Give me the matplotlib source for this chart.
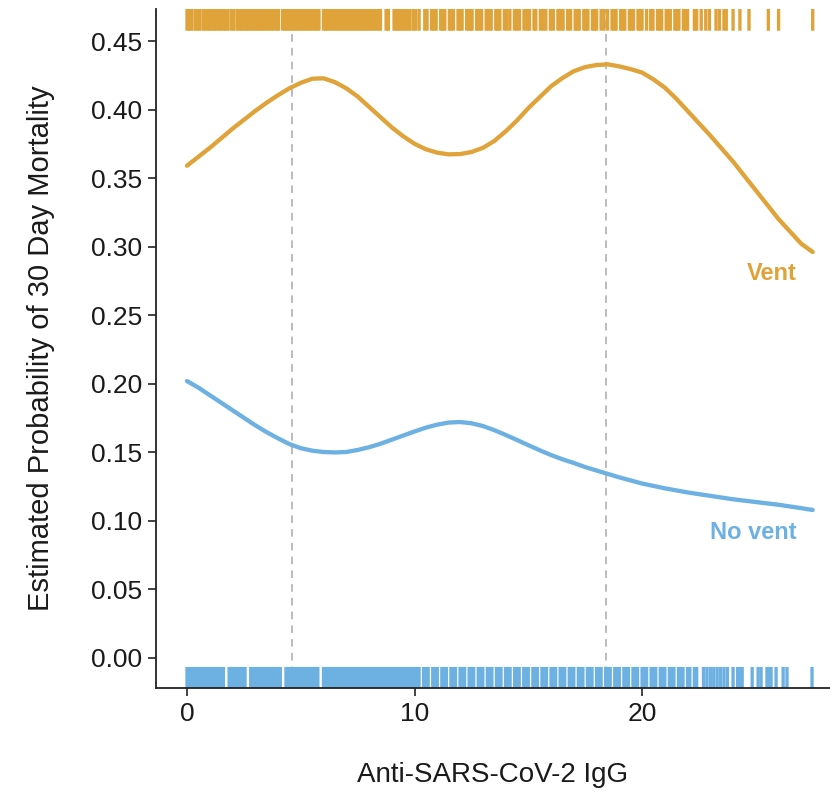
import matplotlib
matplotlib.use("Agg")
import matplotlib.pyplot as plt

plt.rcParams['font.family'] = ['Liberation Sans', 'DejaVu Sans']

# Fitted probability curves (IgG level vs. estimated 30-day mortality)
vent_x = [0, 0.5, 1, 1.5, 2, 2.5, 3, 3.5, 4, 4.5, 5, 5.5, 6, 6.5, 7, 7.5, 8, 8.5, 9, 9.5,
          10, 10.5, 11, 11.5, 12, 12.5, 13, 13.5, 14, 14.5, 15, 15.5, 16, 16.5, 17, 17.5,
          18, 18.5, 19, 19.5, 20, 20.5, 21, 21.5, 22, 22.5, 23, 23.5, 24, 24.5, 25, 25.5,
          26, 26.5, 27, 27.5]
vent_y = [0.359, 0.3655, 0.372, 0.379, 0.386, 0.3925, 0.399, 0.405, 0.4105, 0.4155,
          0.4195, 0.4225, 0.4228, 0.420, 0.4155, 0.4095, 0.402, 0.3945, 0.387, 0.3805,
          0.375, 0.371, 0.3685, 0.3673, 0.3675, 0.369, 0.372, 0.377, 0.384, 0.392,
          0.401, 0.409, 0.417, 0.423, 0.428, 0.431, 0.4325, 0.433, 0.4315, 0.4295,
          0.427, 0.422, 0.416, 0.408, 0.399, 0.390, 0.381, 0.3715, 0.362, 0.3515,
          0.341, 0.3305, 0.320, 0.311, 0.302, 0.296]

novent_x = [0, 0.5, 1, 1.5, 2, 2.5, 3, 3.5, 4, 4.5, 5, 5.5, 6, 6.5, 7, 7.5, 8, 8.5, 9,
            9.5, 10, 10.5, 11, 11.5, 12, 12.5, 13, 13.5, 14, 14.5, 15, 15.5, 16, 16.5,
            17, 17.5, 18, 18.5, 19, 20, 21, 22, 23, 24, 25, 26, 27, 27.5]
novent_y = [0.2018, 0.197, 0.1915, 0.186, 0.1805, 0.175, 0.1695, 0.1645, 0.160, 0.1558,
            0.1528, 0.151, 0.150, 0.1497, 0.150, 0.1515, 0.1535, 0.156, 0.159, 0.162,
            0.165, 0.1678, 0.170, 0.1715, 0.1719, 0.171, 0.169, 0.166, 0.1625, 0.1588,
            0.155, 0.1513, 0.1478, 0.1447, 0.142, 0.139, 0.1365, 0.134, 0.1315, 0.127,
            0.1235, 0.1205, 0.118, 0.1155, 0.1135, 0.1115, 0.109, 0.1077]

# Observed IgG values per group (rug)
vent_obs = [
    0.0, 0.1, 0.2, 0.35, 0.45, 0.55,
    0.7, 0.8, 0.9, 1.0, 1.1, 1.2, 1.3, 1.4, 1.5, 1.6, 1.7, 1.8,
    1.95, 2.05,
    2.2, 2.3, 2.4, 2.5, 2.6, 2.7, 2.8, 2.9, 3.0, 3.1, 3.2, 3.3, 3.4, 3.5, 3.6, 3.7, 3.8,
    3.93, 4.02,
    4.2, 4.3, 4.4, 4.5, 4.6, 4.7, 4.8, 4.9, 5.0, 5.1, 5.2, 5.3, 5.4, 5.5, 5.6, 5.7, 5.8,
    6.0, 6.1, 6.2, 6.3, 6.4, 6.5, 6.6, 6.7, 6.8, 6.9, 7.0, 7.1, 7.2, 7.3, 7.4, 7.5, 7.6,
    7.7, 7.8, 7.9, 8.0, 8.1, 8.2, 8.3, 8.4, 8.5,
    8.75, 8.85,
    9.1, 9.2, 9.3, 9.4, 9.5, 9.6, 9.7, 9.8,
    9.95, 10.05, 10.2,
    10.45, 10.55, 10.75, 10.85, 10.95,
    11.15, 11.24, 11.33, 11.53, 11.62, 11.71, 11.91, 12.0, 12.09,
    12.29, 12.39, 12.48, 12.53, 12.73, 12.83, 12.95, 13.15, 13.26, 13.37,
    13.57, 13.66, 13.75, 13.95, 14.06, 14.19, 14.39, 14.5, 14.61,
    14.81, 14.93, 15.05, 15.25, 15.33, 15.53, 15.65, 15.77, 15.97, 16.1,
    16.3, 16.42, 16.53, 16.73, 16.86, 17.06, 17.15, 17.24, 17.44, 17.53, 17.62,
    17.82, 17.91, 18.0, 18.2, 18.32, 18.48, 18.68, 18.77, 18.86, 19.06, 19.15, 19.24,
    19.44, 19.53, 19.62, 19.82, 19.91, 20.0, 20.2, 20.38, 20.48, 20.68, 20.77, 20.86,
    21.06, 21.15, 21.24, 21.44, 21.53, 21.62, 21.82, 21.91, 22.0,
    22.3, 22.4, 22.6, 22.8, 22.96, 23.25, 23.4, 23.6, 23.7, 24.0, 24.3, 24.7,
    25.55, 26.0, 27.5,
]
novent_obs = [
    0.0, 0.1, 0.2, 0.3, 0.4, 0.5, 0.6, 0.7, 0.8, 0.9, 1.0, 1.1, 1.2, 1.3, 1.4, 1.5, 1.6,
    1.85, 1.95, 2.05, 2.15, 2.25, 2.35, 2.45, 2.55,
    2.8, 2.9, 3.0, 3.1, 3.2, 3.3, 3.4, 3.5, 3.6, 3.7, 3.8, 3.9, 4.0, 4.1,
    4.35, 4.45, 4.55, 4.65, 4.75, 4.85, 4.95, 5.05, 5.15, 5.25, 5.35, 5.45, 5.55, 5.65, 5.75,
    6.0, 6.1, 6.2, 6.3, 6.4, 6.5, 6.6, 6.7, 6.8, 6.9, 7.0, 7.1, 7.2, 7.3, 7.4, 7.5, 7.6,
    7.7, 7.8, 7.9, 8.0, 8.1, 8.2, 8.3, 8.4, 8.5, 8.6, 8.7, 8.8, 8.9, 9.0, 9.1, 9.2, 9.3,
    9.4, 9.5, 9.6, 9.7, 9.8, 9.9, 10.0, 10.1, 10.2,
    10.4, 10.5, 10.6, 10.8, 10.9, 11.0, 11.2, 11.3, 11.4, 11.6, 11.7, 11.8,
    12.0, 12.1, 12.2, 12.4, 12.5, 12.6, 12.8, 12.9, 13.0, 13.2, 13.3, 13.4,
    13.6, 13.7, 13.8, 14.0, 14.1, 14.2, 14.4, 14.5, 14.6, 14.8, 14.9, 15.0,
    15.2, 15.3, 15.4, 15.6, 15.7, 15.8, 16.0, 16.1, 16.2, 16.4, 16.5, 16.6,
    16.8, 16.9, 17.0, 17.2, 17.3, 17.4, 17.6, 17.7, 17.8, 18.0, 18.1, 18.2,
    18.4, 18.5, 18.6, 18.8, 18.9, 19.0, 19.2, 19.3, 19.4, 19.6, 19.7, 19.8,
    20.0, 20.1, 20.2, 20.4, 20.5, 20.6, 20.8, 20.9, 21.0, 21.2, 21.3, 21.4,
    21.6, 21.7, 21.8, 22.0, 22.1, 22.3, 22.4,
    22.7, 22.85, 23.0, 23.15, 23.3, 23.45, 23.6, 23.75, 24.0, 24.2, 24.3, 24.4,
    24.84, 25.1, 25.23, 25.49, 25.58, 25.67, 25.89, 26.2, 26.37, 27.47,
]

# Reference IgG levels marked with dashed lines
ref_levels = [4.6, 18.4]

group_labels = ["Vent", "No vent"]
label_y = [0.280, 0.0912]

x_ticks = [0, 10, 20]
y_ticks = [0.00, 0.05, 0.10, 0.15, 0.20, 0.25, 0.30, 0.35, 0.40, 0.45]

vent_color = "#DFA33A"
novent_color = "#6DB1E3"

fig = plt.figure(figsize=(8.30, 7.97), dpi=100)
ax = fig.add_axes([156 / 830, (797 - 688) / 797, 674 / 830, 679 / 797])

ax.set_xlim(-1.363, 28.26)
ax.set_ylim(-0.02226, 0.4734)

for lv in ref_levels:
    ax.axvline(lv, color="#AAAAAA", lw=1.1, ls=(0, (5, 4)), zorder=1)

ax.plot(vent_x, vent_y, color=vent_color, lw=3.1, solid_capstyle="round",
        solid_joinstyle="round", zorder=3)
ax.plot(novent_x, novent_y, color=novent_color, lw=3.1, solid_capstyle="round",
        solid_joinstyle="round", zorder=3)

xt = ax.get_xaxis_transform()
ax.vlines(vent_obs, 1 - 0.032, 1.0, transform=xt, color=vent_color, lw=2.4,
          snap=False, zorder=2)
ax.vlines(novent_obs, 0.0, 0.031, transform=xt, color=novent_color, lw=2.4,
          snap=False, zorder=2)

ax.text(26.8, label_y[0], group_labels[0], color=vent_color, fontsize=17,
        fontweight="bold", ha="right", va="center")
ax.text(26.8, label_y[1], group_labels[1], color=novent_color, fontsize=17,
        fontweight="bold", ha="right", va="center")

ax.set_xticks(x_ticks)
ax.set_yticks(y_ticks)
ax.set_yticklabels([f"{v:.2f}" for v in y_ticks])
ax.tick_params(axis="both", labelsize=19, length=6, width=1.2, color="#222222",
               labelcolor="#1a1a1a", pad=4)

for side in ("top", "right"):
    ax.spines[side].set_visible(False)
for side in ("left", "bottom"):
    ax.spines[side].set_linewidth(1.3)
    ax.spines[side].set_color("#222222")

ax.set_xlabel("Anti-SARS-CoV-2 IgG", fontsize=20, color="#1a1a1a", labelpad=26)
ax.set_ylabel("Estimated Probability of 30 Day Mortality", fontsize=21,
              color="#1a1a1a", labelpad=26)

fig.savefig("out.png", dpi=100)
